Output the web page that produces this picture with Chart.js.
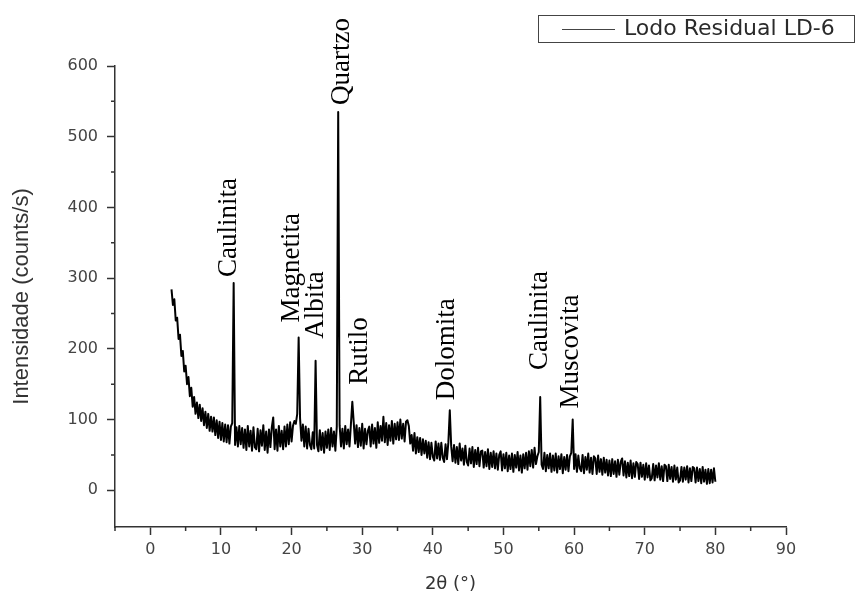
<!DOCTYPE html>
<html>
<head>
<meta charset="utf-8">
<title>Lodo Residual LD-6</title>
<script src="https://cdn.jsdelivr.net/npm/chart.js@4.4.1/dist/chart.umd.min.js"></script>
<style>
  html, body { margin: 0; padding: 0; background: #fff; }
  canvas { display: block; }
</style>
</head>
<body>
<canvas id="xrdChart" width="857" height="596"></canvas>
<script>
// scan 3-80 deg 2theta, 0.2 deg step
var thetaStart = 3.0;
var thetaStep = 0.2;

// counts/s, one row per 2 deg
var intensity = [
	284, 262, 270, 240, 244, 214, 220, 190, 197, 168,
	176, 150, 160, 133, 145, 118, 132, 108, 124, 102,
	121, 98, 116, 92, 111, 88, 108, 84, 104, 83,
	103, 78, 99, 74, 97, 71, 95, 69, 93, 68,
	92, 66, 90, 95, 293, 64, 89, 62, 91, 65,
	88, 60, 86, 57, 91, 62, 84, 56, 89, 61,
	58, 87, 55, 85, 63, 92, 57, 83, 53, 86,
	61, 89, 103, 58, 86, 56, 91, 62, 84, 58,
	90, 62, 93, 65, 96, 69, 91, 98, 94, 108,
	216, 102, 70, 93, 62, 90, 59, 87, 64, 58,
	82, 59, 183, 64, 55, 85, 57, 81, 53, 83,
	60, 86, 57, 88, 62, 83, 56, 90, 535, 92,
	62, 87, 59, 91, 65, 86, 62, 93, 125, 96,
	66, 92, 61, 88, 63, 94, 59, 87, 65, 84,
	90, 62, 93, 66, 88, 60, 96, 67, 91, 70,
	104, 68, 95, 64, 92, 70, 98, 66, 94, 72,
	96, 71, 100, 73, 94, 69, 97, 99, 91, 66,
	78, 56, 81, 52, 75, 54, 74, 50, 72, 52,
	70, 46, 68, 44, 67, 47, 42, 69, 45, 66,
	43, 67, 46, 40, 65, 44, 68, 113, 62, 41,
	64, 39, 61, 37, 66, 42, 59, 36, 63, 40,
	35, 59, 38, 61, 33, 57, 37, 60, 34, 55,
	56, 32, 54, 34, 58, 30, 53, 33, 55, 31,
	52, 29, 50, 55, 28, 51, 31, 53, 27, 49,
	30, 52, 26, 50, 32, 54, 28, 49, 25, 51,
	31, 53, 29, 55, 34, 57, 32, 60, 37, 48,
	54, 132, 36, 30, 53, 27, 50, 31, 52, 26,
	49, 28, 52, 25, 48, 30, 51, 24, 47, 29,
	50, 27, 48, 53, 100, 30, 51, 26, 49, 31,
	27, 50, 24, 47, 29, 52, 25, 46, 23, 48,
	45, 23, 49, 26, 44, 22, 46, 25, 43, 21,
	42, 20, 44, 23, 41, 19, 43, 22, 40, 45,
	21, 41, 18, 39, 20, 42, 17, 38, 19, 40,
	37, 16, 39, 19, 36, 15, 38, 18, 35, 14,
	17, 37, 14, 35, 18, 38, 15, 34, 13, 36,
	34, 13, 36, 16, 33, 12, 35, 15, 32, 11,
	14, 33, 12, 32, 15, 34, 11, 31, 13, 33,
	31, 11, 32, 13, 30, 10, 33, 12, 29, 9,
	30, 10, 29, 11, 31, 12
];

var xTicks = [0, 10, 20, 30, 40, 50, 60, 70, 80, 90];
var yTicks = [0, 100, 200, 300, 400, 500, 600];

// identified phases and the 2theta of the peak each one names
var minerals = ['Caulinita', 'Magnetita', 'Albita', 'Quartzo', 'Rutilo', 'Dolomita', 'Caulinita', 'Muscovita'];
var mineralTheta = [11.8, 21.0, 23.4, 26.6, 28.6, 42.4, 55.2, 59.8];

var seriesLabel = 'Lodo Residual LD-6';

var points = intensity.map(function(v, i) {
	return { x: thetaStart + i * thetaStep, y: v };
});

// short ticks between the labelled ones
var minorTicks = {
	id: 'minorTicks',
	afterDraw: function(chart) {
		var ctx = chart.ctx, xs = chart.scales.x, ys = chart.scales.y, area = chart.chartArea;
		ctx.save();
		ctx.strokeStyle = '#333';
		ctx.lineWidth = 1.5;
		ctx.beginPath();
		for (var v = -5; v <= 85; v += 10) {
			var px = xs.getPixelForValue(v);
			ctx.moveTo(px, area.bottom);
			ctx.lineTo(px, area.bottom + 4);
		}
		for (var w = 50; w <= 550; w += 100) {
			var py = ys.getPixelForValue(w);
			ctx.moveTo(area.left, py);
			ctx.lineTo(area.left - 4, py);
		}
		ctx.stroke();
		ctx.restore();
	}
};

// framed legend in the top right corner
var boxLegend = {
	id: 'boxLegend',
	afterDraw: function(chart) {
		var ctx = chart.ctx;
		ctx.save();
		ctx.strokeStyle = '#444';
		ctx.lineWidth = 1;
		ctx.strokeRect(538.5, 15.5, 316, 27);
		ctx.beginPath();
		ctx.moveTo(562, 29.5);
		ctx.lineTo(615, 29.5);
		ctx.stroke();
		ctx.fillStyle = '#2a2a2a';
		ctx.font = '22px "DejaVu Sans"';
		ctx.textBaseline = 'middle';
		ctx.fillText(chart.data.datasets[0].label, 624, 29);
		ctx.restore();
	}
};

// vertical phase names above their peaks
var peakLabels = {
	id: 'peakLabels',
	afterDatasetsDraw: function(chart) {
		var ctx = chart.ctx, xs = chart.scales.x, ys = chart.scales.y;
		var pts = chart.data.datasets[0].data;
		var dx = [-5, -7, 0, 4, 8, -3, 0, -2];
		var gap = [6, 15, 22, 7, 17, 10, 27, 11];
		ctx.save();
		ctx.fillStyle = '#000';
		ctx.font = '27px "Liberation Serif"';
		ctx.textAlign = 'left';
		ctx.textBaseline = 'middle';
		minerals.forEach(function(name, i) {
			var top = 0;
			pts.forEach(function(p) {
				if (Math.abs(p.x - mineralTheta[i]) < 0.15 && p.y > top) top = p.y;
			});
			ctx.save();
			ctx.translate(xs.getPixelForValue(mineralTheta[i]) + dx[i], ys.getPixelForValue(top) - gap[i]);
			ctx.rotate(-Math.PI / 2);
			ctx.fillText(name, 0, 0);
			ctx.restore();
		});
		ctx.restore();
	}
};

var ctx = document.getElementById('xrdChart').getContext('2d');

var xrdChart = new Chart(ctx, {
	type: 'line',
	data: {
		datasets: [
			{
				label: seriesLabel,
				data: points,
				borderColor: '#000',
				borderWidth: 2,
				borderJoinStyle: 'round',
				pointRadius: 0,
				tension: 0,
				fill: false
			}
		]
	},
	options: {
		responsive: false,
		animation: false,
		devicePixelRatio: 1,
		layout: { padding: { top: 66, right: 71, left: 0, bottom: 0 } },
		plugins: {
			legend: { display: false },
			tooltip: { enabled: false }
		},
		scales: {
			x: {
				type: 'linear',
				min: -5,
				max: 90,
				afterBuildTicks: function(scale) {
					scale.ticks = xTicks.map(function(v) { return { value: v }; });
				},
				afterFit: function(scale) { scale.height = 69; },
				grid: { drawOnChartArea: false, tickLength: 8, tickColor: '#333', tickWidth: 1.5 },
				border: { color: '#333', width: 1.5 },
				ticks: {
					color: '#444',
					padding: 5,
					maxRotation: 0,
					font: { family: 'DejaVu Sans', size: 16 }
				},
				title: {
					display: true,
					text: '2θ (°)',
					color: '#333',
					font: { family: 'DejaVu Sans', size: 18 },
					padding: { top: 0, bottom: 1 }
				}
			},
			y: {
				type: 'linear',
				min: -52,
				max: 600,
				afterBuildTicks: function(scale) {
					scale.ticks = yTicks.map(function(v) { return { value: v }; });
				},
				afterFit: function(scale) { scale.width = 115; },
				grid: { drawOnChartArea: false, tickLength: 8, tickColor: '#333', tickWidth: 1.5 },
				border: { color: '#333', width: 1.5 },
				ticks: {
					color: '#444',
					padding: 9,
					font: { family: 'DejaVu Sans', size: 16 }
				},
				title: {
					display: true,
					text: 'Intensidade (counts/s)',
					color: '#333',
					font: { family: 'Liberation Sans', size: 22 },
					padding: { top: 9, bottom: 0 }
				}
			}
		}
	},
	plugins: [minorTicks, boxLegend, peakLabels]
});
</script>
</body>
</html>
